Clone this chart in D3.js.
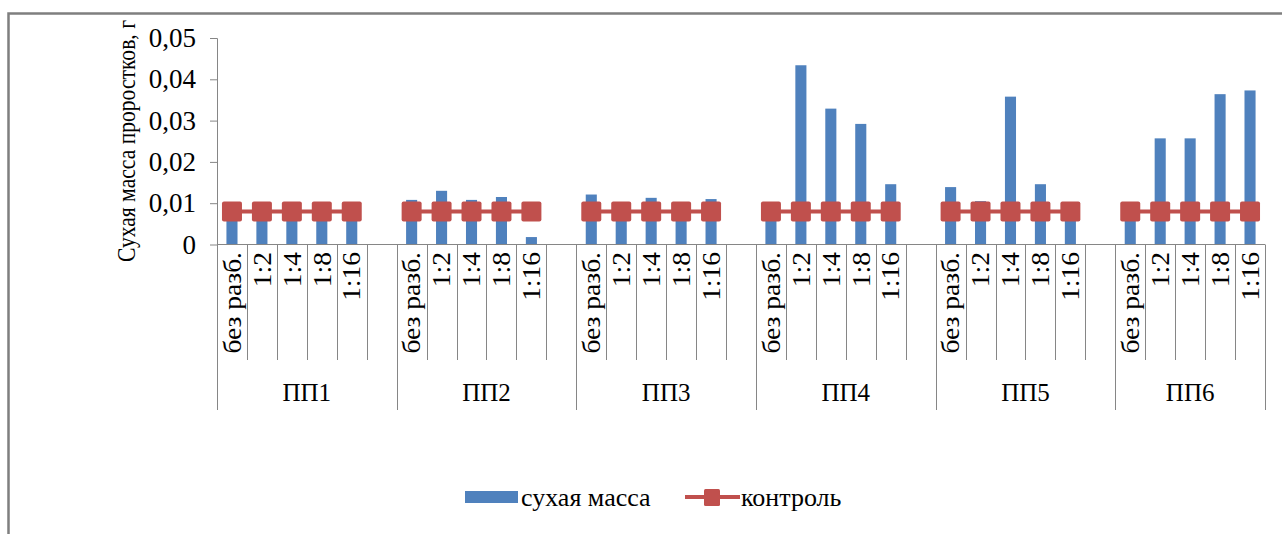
<!DOCTYPE html>
<html>
<head>
<meta charset="utf-8">
<script src="https://cdn.jsdelivr.net/npm/d3@7"></script>
<style>
  html, body { margin: 0; padding: 0; background: #fff; }
  svg { display: block; }
</style>
</head>
<body>
<svg id="chart" width="1282" height="534"></svg>
<script>
// ---- data ----
const groups = ["ПП1", "ПП2", "ПП3", "ПП4", "ПП5", "ПП6"];
const dilutions = ["без разб.", "1:2", "1:4", "1:8", "1:16"];
// dry mass, g, per group (order of dilutions)
const dryMassPP1 = [0.008, 0.008, 0.008, 0.008, 0.008];
const dryMassPP2 = [0.0108, 0.013, 0.0108, 0.0115, 0.0018];
const dryMassPP3 = [0.0121, 0.009, 0.0113, 0.009, 0.011];
const dryMassPP4 = [0.008, 0.0434, 0.0329, 0.0292, 0.0146];
const dryMassPP5 = [0.0139, 0.0105, 0.0358, 0.0146, 0.008];
const dryMassPP6 = [0.008, 0.0257, 0.0257, 0.0364, 0.0373];
const control = [0.008, 0.008, 0.008, 0.008, 0.008];
const yTicks = [0, 0.01, 0.02, 0.03, 0.04, 0.05];
const yTickLabels = ["0", "0,01", "0,02", "0,03", "0,04", "0,05"];
const yTitle = "Сухая масса проростков, г";
const legendLabels = ["сухая масса", "контроль"];

// ---- build slots ----
const dryMass = [dryMassPP1, dryMassPP2, dryMassPP3, dryMassPP4, dryMassPP5, dryMassPP6];
const slots = [];
groups.forEach((g, gi) => {
  dilutions.forEach((d, di) => {
    slots.push({ key: gi + "-" + di, group: gi, label: d, mass: dryMass[gi][di], ctrl: control[di], blank: false });
  });
  if (gi < groups.length - 1) slots.push({ key: gi + "-blank", group: gi, label: "", mass: null, ctrl: null, blank: true });
});

const FONT = "Liberation Serif";
const svg = d3.select("#chart");
const BLUE = "#4F81BD", RED = "#C0504D", AXIS = "#868686";
const FS = 25;
const txt = sel => sel.attr("font-family", FONT).style("font-family", "'Liberation Serif'").attr("fill", "#000");

// outer border
svg.append("rect").attr("x", 8.5).attr("y", 13.5).attr("width", 1300).attr("height", 600)
  .attr("fill", "none").attr("stroke", "#7f7f7f").attr("stroke-width", 2.5);

const X0 = 217, X1 = 1265, Y0 = 244.5, YT = 38;
const x = d3.scaleBand().domain(slots.map(s => s.key)).range([X0, X1]).paddingInner(0).paddingOuter(0);
const y = d3.scaleLinear().domain([0, 0.05]).range([Y0, YT]);
const cx = s => x(s.key) + x.bandwidth() / 2;

// y axis
const yAxis = d3.axisLeft(y).tickValues(yTicks).tickSize(7).tickPadding(14)
  .tickFormat((d, i) => yTickLabels[i]);
const gy = svg.append("g").attr("transform", `translate(${X0},0)`).call(yAxis);
gy.attr("font-family", FONT).attr("font-size", 27);
gy.select(".domain").attr("stroke", AXIS).attr("d", `M-7,${YT + 0.5}H0.5V${Y0}`);
gy.selectAll(".tick line").attr("stroke", AXIS);
gy.selectAll(".tick text").attr("font-size", 27).call(txt);

// y title (scaled along its length to fit the reference span)
const title = svg.append("text").attr("text-anchor", "middle").attr("dy", "0.35em")
  .attr("font-size", 25).call(txt).text(yTitle);
const tl = title.node().getComputedTextLength();
title.attr("transform", `translate(126,141) rotate(-90) scale(${242 / tl},1)`);

// bars
const barW = x.bandwidth() * 0.37;
svg.append("g").selectAll("rect").data(slots.filter(s => !s.blank)).join("rect")
  .attr("x", s => cx(s) - barW / 2).attr("width", barW)
  .attr("y", s => y(s.mass)).attr("height", s => y(0) - y(s.mass))
  .attr("fill", BLUE);

// x axis line
svg.append("line").attr("x1", X0).attr("x2", X1).attr("y1", Y0).attr("y2", Y0)
  .attr("stroke", AXIS).attr("stroke-width", 1);

// category dividers
const boundaries = [];
slots.forEach((s, i) => {
  const left = x(s.key);
  const isGroupStart = i === 0 || slots[i - 1].blank;
  boundaries.push({ x: left, long: isGroupStart });
});
boundaries.push({ x: x.range()[1], long: true });
svg.append("g").selectAll("line").data(boundaries).join("line")
  .attr("x1", d => Math.round(d.x) + 0.5).attr("x2", d => Math.round(d.x) + 0.5)
  .attr("y1", Y0).attr("y2", d => d.long ? 410 : 360)
  .attr("stroke", AXIS).attr("stroke-width", 1);

// category labels
svg.append("g").selectAll("text").data(slots.filter(s => !s.blank)).join("text")
  .attr("transform", s => `translate(${cx(s)},252) rotate(-90) scale(1.1,1)`)
  .attr("text-anchor", "end").attr("dy", "0.35em").attr("font-size", FS).call(txt).text(s => s.label);

// group labels
svg.append("g").selectAll("text").data(groups).join("text")
  .attr("x", (g, gi) => {
    const ss = slots.filter(s => s.group === gi);
    return (x(ss[0].key) + x(ss[ss.length - 1].key) + x.bandwidth()) / 2;
  })
  .attr("y", 392).attr("dy", "0.35em").attr("text-anchor", "middle").attr("font-size", 25).call(txt).text(g => g);

// control line + markers
const line = d3.line().defined(s => s.ctrl != null).x(cx).y(s => y(s.ctrl));
svg.append("path").datum(slots).attr("d", line).attr("fill", "none")
  .attr("stroke", RED).attr("stroke-width", 4);
const M = 20;
svg.append("g").selectAll("rect").data(slots.filter(s => !s.blank)).join("rect")
  .attr("x", s => cx(s) - M / 2).attr("y", s => y(s.ctrl) - M / 2)
  .attr("width", M).attr("height", M).attr("rx", 2)
  .attr("fill", RED);

// legend
const lg = svg.append("g");
lg.append("rect").attr("x", 465).attr("y", 491).attr("width", 53).attr("height", 12).attr("fill", BLUE);
lg.append("text").attr("x", 521).attr("y", 497).attr("dy", "0.35em").attr("font-size", 26).call(txt).text(legendLabels[0]);
lg.append("line").attr("x1", 685).attr("x2", 740).attr("y1", 497).attr("y2", 497)
  .attr("stroke", RED).attr("stroke-width", 4);
lg.append("rect").attr("x", 704).attr("y", 489).attr("width", 16).attr("height", 17).attr("rx", 1.5).attr("fill", RED);
lg.append("text").attr("x", 741).attr("y", 497).attr("dy", "0.35em").attr("font-size", 26).call(txt).text(legendLabels[1]);
</script>
</body>
</html>
